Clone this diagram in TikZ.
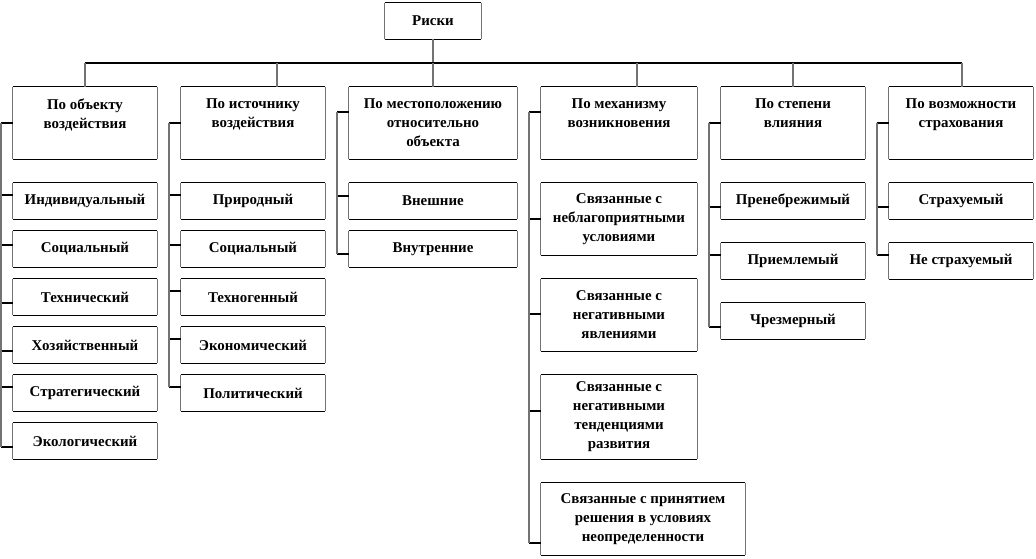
\documentclass[tikz,border=0pt]{standalone}
\usepackage{fontspec}
\setmainfont{Liberation Serif}
\usetikzlibrary{calc}
\tikzset{
  hl/.style={draw=black, line width=0.8pt},
  vl/.style={draw=black!55, line width=0.8pt},
  sideln/.style={draw=black!55, line width=0.8pt},
  topln/.style={draw=black, line width=0.9pt},
  box/.style={rectangle, inner sep=0pt, draw=none, align=center,
    font=\bfseries\fontsize{11.2}{14.25}\selectfont,
    append after command={
      (\tikzlastnode.north west) edge[sideln] (\tikzlastnode.south west)
      (\tikzlastnode.north east) edge[sideln] (\tikzlastnode.south east)
      (\tikzlastnode.north west) edge[topln] (\tikzlastnode.north east)
      (\tikzlastnode.south west) edge[topln] (\tikzlastnode.south east)}},
  htext/.style={inner sep=0pt, align=center, anchor=north,
    font=\bfseries\fontsize{11.2}{14.25}\selectfont},
}
\newcommand\brtick[3]{\coordinate (#1t) at ([yshift=#3]#1.west); \draw[hl] (#1t) -- (#1t -| #2);}
\begin{document}
\begin{tikzpicture}[x=0.75pt,y=-0.75pt]
\useasboundingbox[fill=white] (0,0) rectangle (1036,558);
% root
\node[box, minimum width=96*0.75pt, minimum height=36*0.75pt] (R) at (433,21) {Риски};
% headers
\tikzset{hdr/.style={box, minimum height=72*0.75pt}}
\node[hdr, minimum width=144*0.75pt] (hA) at (85,123) {};
\node[hdr, minimum width=144*0.75pt] (hB) at (253,123) {};
\node[hdr, minimum width=168*0.75pt] (hC) at (433,123) {};
\node[hdr, minimum width=156*0.75pt] (hD) at (619,123) {};
\node[hdr, minimum width=144*0.75pt] (hE) at (793,123) {};
\node[hdr, minimum width=144*0.75pt] (hF) at (961,123) {};
\node[htext] (tA) at ([yshift=-9pt]hA.north) {По объекту\\воздействия};
\node[htext] (tB) at ([yshift=-9pt]hB.north) {По источнику\\воздействия};
\node[htext] (tC) at ([yshift=-9pt]hC.north) {По местоположению\\относительно\\объекта};
\node[htext] (tD) at ([yshift=-9pt]hD.north) {По механизму\\возникновения};
\node[htext] (tE) at ([yshift=-9pt]hE.north) {По степени\\влияния};
\node[htext] (tF) at ([yshift=-9pt]hF.north) {По возможности\\страхования};
% column A
\tikzset{cw/.style={box, minimum width=144*0.75pt, minimum height=36*0.75pt}}
\node[cw] (cA1) at (85,201) {Индивидуальный};
\node[cw] (cA2) at (85,249) {Социальный};
\node[cw] (cA3) at (85,297) {Технический};
\node[cw] (cA4) at (85,345) {Хозяйственный};
\node[cw] (cA5) at (85,393) {Стратегический};
\node[cw] (cA6) at (85,441) {Экологический};
% column B
\node[cw] (cB1) at (253,201) {Природный};
\node[cw] (cB2) at (253,249) {Социальный};
\node[cw] (cB3) at (253,297) {Техногенный};
\node[cw] (cB4) at (253,345) {Экономический};
\node[cw] (cB5) at (253,393) {Политический};
% column C
\node[cw, minimum width=168*0.75pt] (cC1) at (433,201) {Внешние};
\node[cw, minimum width=168*0.75pt] (cC2) at (433,249) {Внутренние};
% column D
\node[box, minimum width=156*0.75pt, minimum height=72*0.75pt] (cD1) at (619,219) {Связанные с\\неблагоприятными\\условиями};
\node[box, minimum width=156*0.75pt, minimum height=72*0.75pt] (cD2) at (619,315) {Связанные с\\негативными\\явлениями};
\node[box, minimum width=156*0.75pt, minimum height=84*0.75pt] (cD3) at (619,417) {Связанные с\\негативными\\тенденциями\\развития};
\node[box, minimum width=204*0.75pt, minimum height=72*0.75pt] (cD4) at (643,519) {Связанные с принятием\\решения в условиях\\неопределенности};
% column E
\node[cw] (cE1) at (793,201) {Пренебрежимый};
\node[cw] (cE2) at (793,261) {Приемлемый};
\node[cw] (cE3) at (793,321) {Чрезмерный};
% column F
\node[cw] (cF1) at (961,201) {Страхуемый};
\node[cw] (cF2) at (961,261) {Не страхуемый};
% top bus
\coordinate (bus) at (433,63);
\draw[vl] (R.south) -- (R.south |- bus);
\draw[hl] (hA.north |- bus) -- ($(hF.north |- bus)+(1,0)$);
\draw[vl] (hA.north |- bus) -- (hA.north);
\draw[vl] ($(hB.north |- bus)+(24,0)$) -- ($(hB.north)+(24,0)$);
\draw[vl] (hC.north |- bus) -- (hC.north);
\draw[vl] ($(hD.north |- bus)+(18,0)$) -- ($(hD.north)+(18,0)$);
\draw[vl] (hE.north |- bus) -- (hE.north);
\draw[vl] ($(hF.north |- bus)+(1,0)$) -- ($(hF.north)+(1,0)$);
% spines
\coordinate (sA) at (1,0);
\coordinate (sB) at (169,0);
\coordinate (sC) at (337,0);
\coordinate (sD) at (529,0);
\coordinate (sE) at (709,0);
\coordinate (sF) at (877,0);
% column A ticks
\brtick{hA}{sA}{0pt}
\brtick{cA1}{sA}{4.5pt}
\brtick{cA2}{sA}{3pt}
\brtick{cA3}{sA}{-4.5pt}
\brtick{cA4}{sA}{-4.5pt}
\brtick{cA5}{sA}{4.5pt}
\brtick{cA6}{sA}{-4.5pt}
\draw[vl] (hAt -| sA) -- (cA6t -| sA);
% column B ticks
\brtick{hB}{sB}{0pt}
\brtick{cB1}{sB}{4.5pt}
\brtick{cB2}{sB}{3pt}
\brtick{cB3}{sB}{4.5pt}
\brtick{cB4}{sB}{4.5pt}
\brtick{cB5}{sB}{4.5pt}
\draw[vl] (hBt -| sB) -- (cB5t -| sB);
% column C ticks
\brtick{hC}{sC}{8.25pt}
\brtick{cC1}{sC}{3.75pt}
\brtick{cC2}{sC}{-3.75pt}
\draw[vl] (hCt -| sC) -- (cC2t -| sC);
% column D ticks
\brtick{hD}{sD}{8.25pt}
\brtick{cD1}{sD}{0pt}
\brtick{cD2}{sD}{0.75pt}
\brtick{cD3}{sD}{4.5pt}
\brtick{cD4}{sD}{-18pt}
\draw[vl] (hDt -| sD) -- (cD4t -| sD);
% column E ticks
\brtick{hE}{sE}{0pt}
\brtick{cE1}{sE}{-4.5pt}
\brtick{cE2}{sE}{4.5pt}
\brtick{cE3}{sE}{-4.5pt}
\draw[vl] (hEt -| sE) -- (cE3t -| sE);
% column F ticks
\brtick{hF}{sF}{0pt}
\brtick{cF1}{sF}{-4.5pt}
\brtick{cF2}{sF}{4.5pt}
\draw[vl] (hFt -| sF) -- (cF2t -| sF);
\end{tikzpicture}
\end{document}
